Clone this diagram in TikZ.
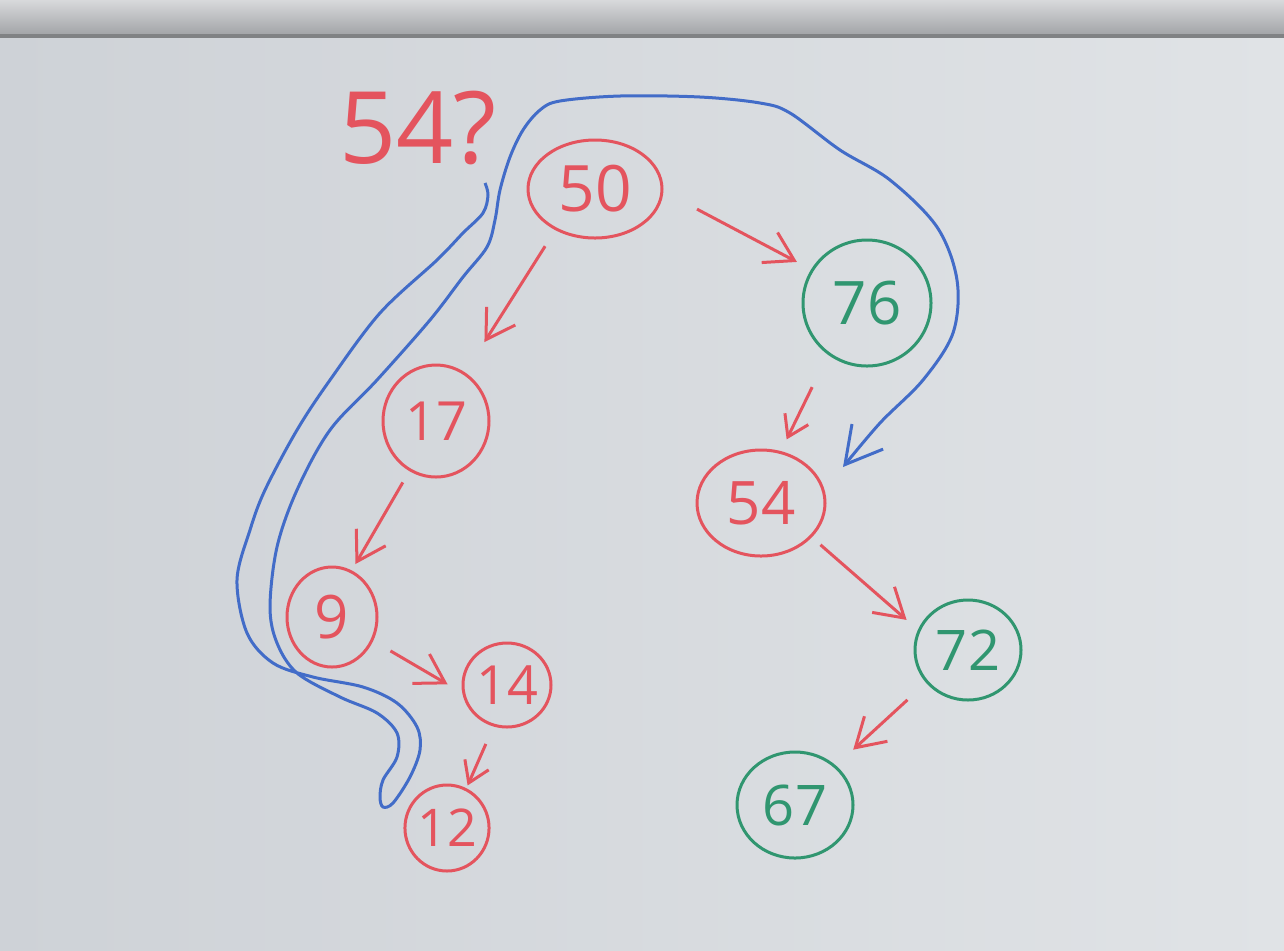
\documentclass[tikz,border=0pt]{standalone}
\usepackage{fontspec}
\setmainfont{Open Sans}
\usetikzlibrary{shapes.geometric,arrows.meta}
\definecolor{mkred}{RGB}{228,84,94}
\definecolor{mkgreen}{RGB}{48,150,112}
\definecolor{mkblue}{RGB}{66,108,200}
\definecolor{boardL}{RGB}{206,210,215}
\definecolor{boardR}{RGB}{224,227,230}
\definecolor{frameA}{RGB}{190,192,195}
\definecolor{frameB}{RGB}{160,162,165}
\newcommand{\fsz}[1]{\fontsize{#1pt}{#1pt}\selectfont}
\begin{document}
\begin{tikzpicture}[x=0.5pt,y=-0.5pt,
  tn/.style={ellipse, draw, line width=1.5pt, inner sep=0pt},
  arr/.style={draw=mkred, line width=1.5pt, -{Straight Barb[length=14pt,width=17pt]}},
  arrs/.style={draw=mkred, line width=1.5pt, -{Straight Barb[length=10pt,width=13pt]}}]
\useasboundingbox (0,0) rectangle (1284,950);
\shade[left color=boardL, right color=boardR] (0,0) rectangle (1284,950);
\shade[top color=frameA!60!white, bottom color=frameB] (0,0) rectangle (1284,36);
\fill[frameB!80!black] (0,34) rectangle (1284,38);

% nodes
\node[tn, mkred, minimum width=67pt, minimum height=49pt, font=\fsz{32}] (n50) at (595,189) {50};
\node[tn, mkgreen, minimum width=64pt, minimum height=63pt, font=\fsz{30}] (n76) at (867,303) {76};
\node[tn, mkred, minimum width=53pt, minimum height=56pt, font=\fsz{27}] (n17) at (436,421) {17};
\node[tn, mkred, minimum width=64pt, minimum height=53pt, font=\fsz{30}] (n54) at (761,503) {54};
\node[tn, mkred, minimum width=45pt, minimum height=50pt, font=\fsz{30}] (n9) at (332,617) {9};
\node[tn, mkred, minimum width=44pt, minimum height=42pt, font=\fsz{27}] (n14) at (507,685) {14};
\node[tn, mkgreen, minimum width=53pt, minimum height=50pt, font=\fsz{28}] (n72) at (968,650) {72};
\node[tn, mkred, minimum width=40pt, minimum height=43pt, font=\fsz{26}] (n12) at (447,828) {12};
\node[tn, mkgreen, minimum width=58pt, minimum height=53pt, font=\fsz{28}] (n67) at (795,805) {67};

\node[mkred, font=\fsz{50}] (q) at (418,128) {54?};

% tree arrows
\draw[arr, shorten <=9.5pt, shorten >=18pt] (n50.-134) -- (n17.59);
\draw[arr, shorten <=19pt, shorten >=8pt] (n50.-2) -- (n76.149);
\draw[arr, shorten <=6.5pt, shorten >=3.7pt] (n17.-118) -- (n9.67);
\draw[arr, shorten <=10pt, shorten >=8.5pt] (n9.-30) -- (n14.190);
\draw[arrs, shorten <=9.5pt, shorten >=1.5pt] (n14.-108) -- (n12.64);
\draw[arrs, shorten <=18pt, shorten >=6.5pt] (n76.-127) -- (n54.69);
\draw[arr, shorten <=5.7pt, shorten >=7.5pt] (n54.-34) -- (n72.158);
\draw[arr, shorten <=12.6pt, shorten >=11.7pt] (n72.-142) -- (n67.44);

% blue search path
\draw[mkblue, line width=1.5pt, line join=round, -{Straight Barb[length=18pt,width=20pt]}]
  plot[smooth, tension=0.55] coordinates {
  (485,183) (488,195) (483,213) (463,233) (437,260) (380,313) (330,380)
  (297,430) (265,490) (250,530) (237,580) (247,633) (273,663) (313,677)
  (363,687) (397,703) (417,727) (420,750) (410,777) (393,803) (383,807)
  (380,797) (383,780) (397,757) (397,733) (377,713) (340,697) (297,673)
  (277,643) (270,607) (277,547) (297,490) (330,430) (377,380) (430,320)
  (463,277) (487,247) (495,220) (500,190) (510,157) (523,130) (540,110)
  (560,101) (620,96) (700,97) (760,103) (790,113) (840,150) (890,180)
  (937,227) (957,280) (953,333) (923,380) (880,423) (843,467)};
\end{tikzpicture}
\end{document}
